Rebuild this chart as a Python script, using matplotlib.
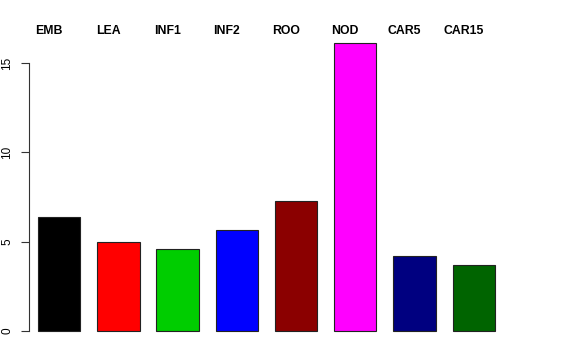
import matplotlib
matplotlib.use("Agg")
import matplotlib.pyplot as plt
import numpy as np

# -----------------------
# Data
# -----------------------
labels = ["EMB", "LEA", "INF1", "INF2", "ROO", "NOD", "CAR5", "CAR15"]
values = [6.38, 4.98, 4.6, 5.67, 7.26, 16.16, 4.2, 3.7]
colors = ["#000000", "#FF0000", "#00CD00", "#0000FF",
          "#8B0000", "#FF00FF", "#000080", "#006400"]

W, H = 576, 360

# -----------------------
# Plot
# -----------------------
fig = plt.figure(figsize=(W / 100, H / 100), dpi=100)
ax = fig.add_axes([28.7 / W, (H - 342) / H, (513 - 28.7) / W, (342 - 32) / H])

x = 0.9 + 1.4 * np.arange(len(values))
ax.bar(x, values, width=1.0, color=colors, edgecolor="#222222", linewidth=0.8)

ax.set_xlim(0.18, 11.63)
ax.set_ylim(-0.616, 16.75)

for s in ["top", "right", "bottom"]:
    ax.spines[s].set_visible(False)
ax.spines["left"].set_bounds(0, 15)
ax.spines["left"].set_color("#333333")
ax.spines["left"].set_linewidth(0.8)

ax.set_xticks([])
ax.set_yticks([0, 5, 10, 15])
ax.tick_params(axis="y", length=5.5, width=0.8, color="#333333", pad=5.5,
               labelsize=8.5)
for t in ax.get_yticklabels():
    t.set_rotation(90)
    t.set_va("center")
    t.set_family("Liberation Sans")

# category labels across the top, slightly left of each bar
for lx, lab in zip(x - 0.24, labels):
    ax.text(lx, 16.8, lab, ha="center", va="center", fontsize=8.8,
            fontweight="bold", family="Liberation Sans",
            transform=ax.transData, clip_on=False)

fig.savefig("out.png", dpi=100)
